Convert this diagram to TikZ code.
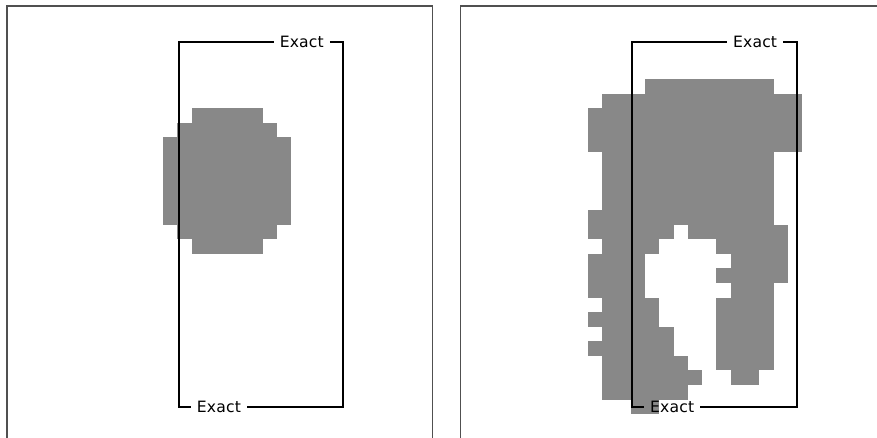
\documentclass[tikz,border=0pt]{standalone}
\usepackage{fontspec}
\setmainfont{DejaVu Sans}[LetterSpace=1]
\usetikzlibrary{positioning}
\definecolor{pxgray}{HTML}{888888}
\definecolor{framegray}{HTML}{505050}

% pixel grid of the masks
\newcommand{\cellw}{14.27}
\newcommand{\cellh}{14.57}

\begin{document}
\begin{tikzpicture}[x=1pt, y=-1pt,
  framebox/.style={draw=framegray, line width=1.4pt},
  pixel/.style={fill=pxgray, draw=none},
  exactline/.style={draw=black, line width=1.9pt},
  exactlbl/.style={inner xsep=6pt, inner ysep=0pt, text=black,
                   font=\fontsize{15.6}{18}\selectfont}
]
\useasboundingbox (0,0) rectangle (877,438);
\clip (0,0) rectangle (877,438);

% panel frames
\draw[framebox] (7,6) rectangle (432.3,470);
\draw[framebox] (460.5,6) rectangle (890,470);

% left mask
\foreach \r/\a/\b in {2/4/8, 3/3/9, 4/2/10, 5/2/10, 6/2/10, 7/2/10,
                      8/2/10, 9/2/10, 10/3/9, 11/4/8} {
  \fill[pixel] ({134.5+\a*\cellw}, {79+\r*\cellh})
    rectangle ({134.5+(\b+1)*\cellw}, {79+(\r+1)*\cellh});
}

% right mask
\foreach \r/\a/\b in {0/4/12, 1/1/14, 2/0/14, 3/0/14, 4/0/14,
                      5/1/12, 6/1/12, 7/1/12, 8/1/12, 9/0/12,
                      10/0/5, 10/7/13, 11/1/4, 11/9/13, 12/0/3, 12/10/13,
                      13/0/3, 13/9/13, 14/0/3, 14/10/12, 15/1/4, 15/9/12,
                      16/0/4, 16/9/12, 17/1/5, 17/9/12, 18/0/5, 18/9/12,
                      19/1/6, 19/9/12, 20/1/7, 20/10/11, 21/1/6, 22/3/4} {
  \fill[pixel] ({588+\a*\cellw}, {79+\r*\cellh})
    rectangle ({588+(\b+1)*\cellw}, {79+(\r+1)*\cellh});
}

% exact boxes
\foreach \dx/\p in {0/L, 453.3/R} {
  \coordinate (tl\p) at ({178.7+\dx}, 41.7);
  \coordinate (tr\p) at ({343.3+\dx}, 41.7);
  \coordinate (bl\p) at ({178.7+\dx}, 407.3);
  \coordinate (br\p) at ({343.3+\dx}, 407.3);
  \node[exactlbl] (top\p) at ({301.8+\dx}, 41.7) {Exact};
  \node[exactlbl] (bot\p) at ({218.9+\dx}, 407.3) {Exact};
  \draw[exactline] (top\p.west) -- (tl\p) -- (bl\p) -- (bot\p.west);
  \draw[exactline] (top\p.east) -- (tr\p) -- (br\p) -- (bot\p.east);
}
\end{tikzpicture}
\end{document}
